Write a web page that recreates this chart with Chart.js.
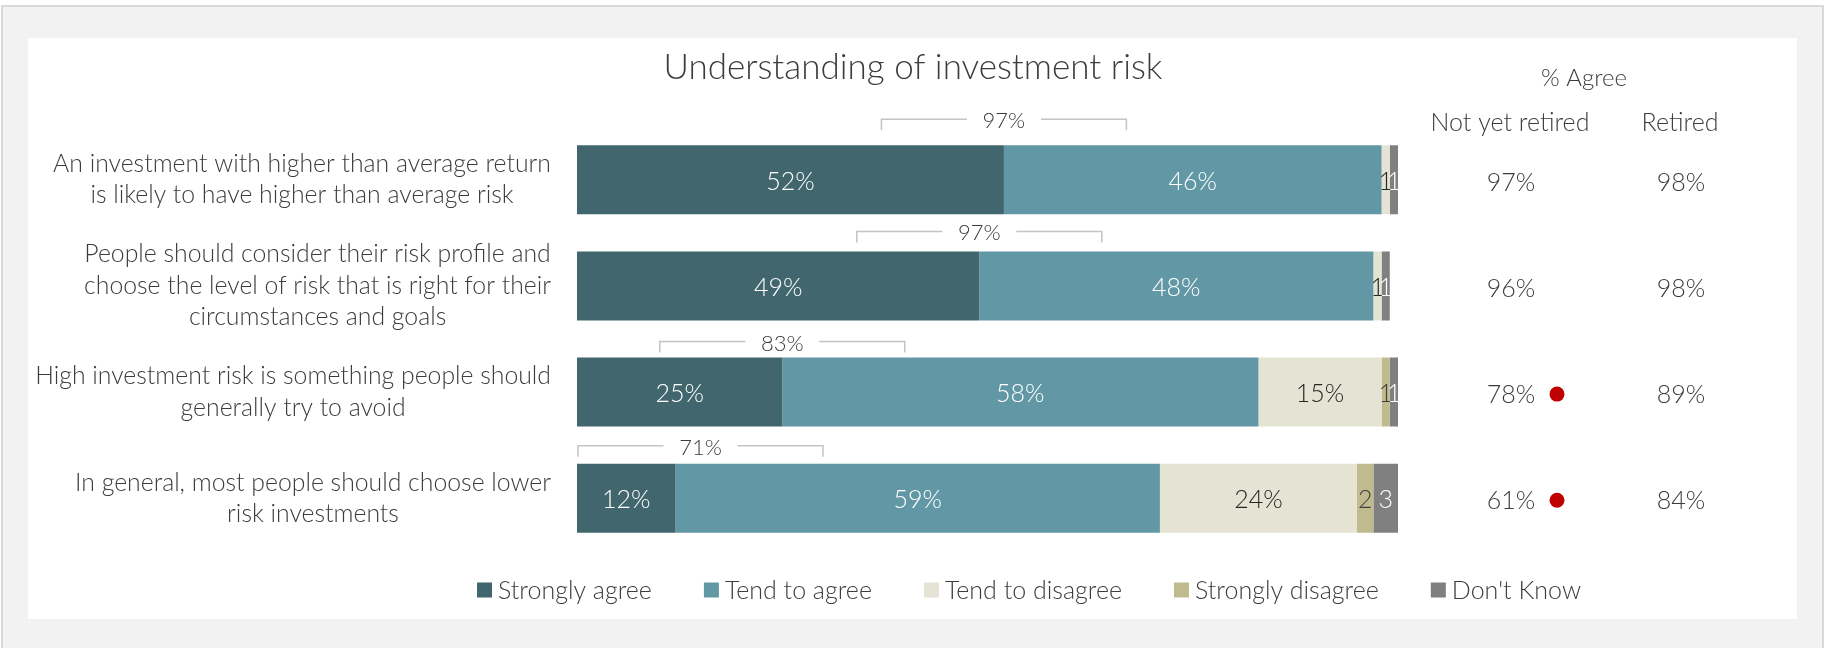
<!DOCTYPE html>
<html>
<head>
<meta charset="utf-8">
<title>Understanding of investment risk</title>
<script src="https://cdn.jsdelivr.net/npm/chart.js@4.4.1/dist/chart.umd.min.js"></script>
<style>
  html, body { margin: 0; padding: 0; background: #ffffff; }
  body { width: 1825px; height: 648px; overflow: hidden; position: relative; }
  #frame { position: absolute; left: 1px; top: 5px; width: 1823px; height: 700px;
           background: #f2f2f2; border: 2px solid #d9d9d9; box-sizing: border-box; }
  #panel { position: absolute; left: 28px; top: 38px; width: 1769px; height: 581px; background: #ffffff; }
  #chart { position: absolute; left: 0; top: 0; }
</style>
</head>
<body>
<div id="frame"></div>
<div id="panel"></div>
<canvas id="chart" width="1825" height="648"></canvas>
<script>
// Statements (one row each, wrapped as shown)
const categories = [
  ["An investment with higher than average return", "is likely to have higher than average risk"],
  ["People should consider their risk profile and", "choose the level of risk that is right for their", "circumstances and goals"],
  ["High investment risk is something people should", "generally try to avoid"],
  ["In general, most people should choose lower", "risk investments"]
];

// Response shares, %
const seriesNames      = ["Strongly agree", "Tend to agree", "Tend to disagree", "Strongly disagree", "Don't Know"];
const stronglyAgree    = [52, 49, 25, 12];
const tendToAgree      = [46, 48, 58, 59];
const tendToDisagree   = [1, 1, 15, 24];
const stronglyDisagree = [0, 0, 1, 2];
const dontKnow         = [1, 1, 1, 3];

// Net agree shown above each bar
const totalAgree = [97, 97, 83, 71];

// % Agree by retirement status
const notYetRetired = [97, 96, 78, 61];
const retired       = [98, 98, 89, 84];
const significant   = [false, false, true, true];

const colors      = ["#41666d", "#6298a5", "#e5e3d3", "#c0bb8c", "#808080"];
const labelColors = ["#ffffff", "#ffffff", "#262626", "#404040", "#ffffff"];
const textColor = "#3c3c3c";
const FONT = "Lato, 'Open Sans', sans-serif";
const font = (size, weight) => `${weight || 300} ${size}px ${FONT}`;

const seriesValues = [stronglyAgree, tendToAgree, tendToDisagree, stronglyDisagree, dontKnow];

// Draws the in-bar value labels
const segmentLabels = {
  id: "segmentLabels",
  afterDatasetsDraw(chart) {
    const ctx = chart.ctx;
    ctx.save();
    ctx.textAlign = "center";
    ctx.textBaseline = "middle";
    ctx.font = font(25);
    chart.data.datasets.forEach((ds, i) => {
      const meta = chart.getDatasetMeta(i);
      meta.data.forEach((el, j) => {
        const v = ds.data[j];
        if (!v) return;
        const p = el.getProps(["x", "y", "base"], true);
        ctx.fillStyle = labelColors[i];
        ctx.fillText(v >= 5 ? v + "%" : String(v), (p.x + p.base) / 2, p.y + 2);
      });
    });
    ctx.restore();
  }
};

// Brackets with the net agree figure over the agree segments
const bracketLift = [26, 20, 16, 18];
const agreeBrackets = {
  id: "agreeBrackets",
  afterDatasetsDraw(chart) {
    const ctx = chart.ctx;
    const xs = chart.scales.x;
    const meta = chart.getDatasetMeta(0);
    const halfW = 122.5, gap = 37, leg = 11;
    ctx.save();
    ctx.strokeStyle = "#c4c4c4";
    ctx.lineWidth = 1.5;
    ctx.font = font(22);
    ctx.fillStyle = textColor;
    ctx.textAlign = "center";
    ctx.textBaseline = "middle";
    totalAgree.forEach((t, r) => {
      const el = meta.data[r];
      const top = el.y - el.height / 2;
      const yl = top - bracketLift[r];
      let left = xs.getPixelForValue(stronglyAgree[r]) - halfW;
      left = Math.max(left, chart.chartArea.left + 1);
      const right = left + 2 * halfW;
      const cx = (left + right) / 2;
      ctx.beginPath();
      ctx.moveTo(left, yl + leg); ctx.lineTo(left, yl); ctx.lineTo(cx - gap, yl);
      ctx.moveTo(cx + gap, yl); ctx.lineTo(right, yl); ctx.lineTo(right, yl + leg);
      ctx.stroke();
      ctx.fillText(t + "%", cx, yl + 2);
    });
    ctx.restore();
  }
};

// Statement text to the left of the bars, lines centred within each block
const statementLabels = {
  id: "statementLabels",
  afterDraw(chart) {
    const ctx = chart.ctx;
    const ys = chart.scales.y;
    const rightEdge = chart.chartArea.left - 26;
    const lh = 31.4;
    ctx.save();
    ctx.font = font(24.8);
    ctx.fillStyle = textColor;
    ctx.textAlign = "center";
    ctx.textBaseline = "middle";
    categories.forEach((lines, i) => {
      const yc = ys.getPixelForValue(i);
      const maxW = Math.max(...lines.map(l => ctx.measureText(l).width));
      const cx = rightEdge - maxW / 2;
      lines.forEach((l, j) => ctx.fillText(l, cx, yc + (j - (lines.length - 1) / 2) * lh));
    });
    ctx.restore();
  }
};

// Title, the % Agree columns and the legend
const sideText = {
  id: "sideText",
  afterDraw(chart) {
    const ctx = chart.ctx;
    const ys = chart.scales.y;
    ctx.save();
    ctx.fillStyle = textColor;
    ctx.textAlign = "center";
    ctx.textBaseline = "middle";

    ctx.font = font(35);
    ctx.fillText("Understanding of investment risk", 913, 68);

    ctx.font = font(24);
    ctx.fillText("% Agree", 1584, 78);
    ctx.font = font(25);
    ctx.fillText("Not yet retired", 1510, 123);
    ctx.fillText("Retired", 1680, 123);

    ctx.font = font(25);
    notYetRetired.forEach((v, i) => {
      const y = ys.getPixelForValue(i) + 3;
      ctx.fillStyle = textColor;
      ctx.fillText(v + "%", 1511, y);
      ctx.fillText(retired[i] + "%", 1681, y);
      if (significant[i]) {
        ctx.fillStyle = "#c00000";
        ctx.beginPath();
        ctx.arc(1557, y - 1, 7.5, 0, Math.PI * 2);
        ctx.fill();
      }
    });

    // legend
    ctx.font = font(25);
    ctx.textAlign = "left";
    const box = 15, textOff = 21, itemGap = 52;
    const items = chart.data.datasets.map(ds => ({ label: ds.label, color: ds.backgroundColor, w: ctx.measureText(ds.label).width }));
    const total = items.reduce((s, it) => s + textOff + it.w, 0) + itemGap * (items.length - 1);
    let x = 1029 - total / 2;
    const yl = 590;
    items.forEach(it => {
      ctx.fillStyle = it.color;
      ctx.fillRect(x, yl - box / 2, box, box);
      ctx.fillStyle = textColor;
      ctx.fillText(it.label, x + textOff, yl + 1);
      x += textOff + it.w + itemGap;
    });
    ctx.restore();
  }
};

new Chart(document.getElementById("chart"), {
  type: "bar",
  data: {
    labels: categories,
    datasets: seriesNames.map((name, i) => ({
      label: name,
      data: seriesValues[i],
      backgroundColor: colors[i],
      borderWidth: 0,
      barPercentage: 0.65,
      categoryPercentage: 1.0
    }))
  },
  options: {
    indexAxis: "y",
    responsive: false,
    animation: false,
    devicePixelRatio: 1,
    layout: { padding: { left: 577, right: 427, top: 126.6, bottom: 96.6 } },
    scales: {
      x: { stacked: true, min: 0, max: 100, display: false },
      y: { stacked: true, display: false }
    },
    plugins: {
      legend: { display: false },
      tooltip: { enabled: false },
      title: { display: false }
    }
  },
  plugins: [segmentLabels, agreeBrackets, statementLabels, sideText]
});
</script>
</body>
</html>
